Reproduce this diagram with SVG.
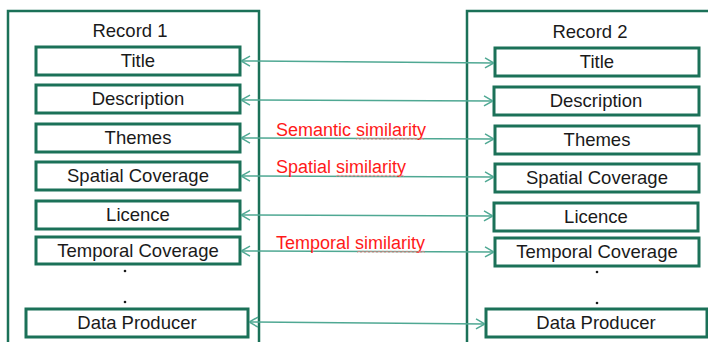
<svg xmlns="http://www.w3.org/2000/svg" width="708" height="342" viewBox="0 0 708 342">
<defs>
<style>
.container{fill:none;stroke:#1b7158;stroke-width:2.5}
.box{fill:#ffffff;stroke:#1b7158;stroke-width:3}
.t{font-family:"Liberation Sans",Arial,sans-serif;font-size:18.5px;fill:#1a1a1a;text-anchor:middle}
.lbl{font-family:"Liberation Sans",Arial,sans-serif;font-size:18px;fill:#ff1a1a}
.conn{stroke:#4fa893;stroke-width:1.5;fill:none;marker-start:url(#ah);marker-end:url(#ah)}
.sq{stroke:#f08080;stroke-width:1;fill:none;opacity:0.8}
.dot{fill:#1a1a1a}
</style>
<marker id="ah" viewBox="0 0 10 12" refX="10" refY="6" markerWidth="10" markerHeight="12" markerUnits="userSpaceOnUse" orient="auto-start-reverse">
<path d="M1,1 L10,6 L1,11" fill="none" stroke="#4fa893" stroke-width="1.5"/>
</marker>
</defs>
<rect width="708" height="342" fill="#ffffff"/>
<g id="record1">
<rect class="container" x="8" y="11" width="251" height="340"/>
<text class="t" x="130" y="37">Record 1</text>
</g>
<g id="record2">
<rect class="container" x="467" y="11" width="260" height="340"/>
<text class="t" x="590" y="38">Record 2</text>
</g>
<g id="l-title"><rect class="box" x="36" y="47" width="204" height="28"/><text class="t" x="138" y="67">Title</text></g>
<g id="l-description"><rect class="box" x="36" y="85" width="204" height="28"/><text class="t" x="138" y="105">Description</text></g>
<g id="l-themes"><rect class="box" x="36" y="124" width="204" height="28"/><text class="t" x="138" y="144">Themes</text></g>
<g id="l-spatial"><rect class="box" x="36" y="162" width="204" height="28"/><text class="t" x="138" y="182">Spatial Coverage</text></g>
<g id="l-licence"><rect class="box" x="36" y="201" width="204" height="28"/><text class="t" x="138" y="221">Licence</text></g>
<g id="l-temporal"><rect class="box" x="36" y="237" width="204" height="27"/><text class="t" x="138" y="257">Temporal Coverage</text></g>
<g id="l-dots"><circle class="dot" cx="125" cy="271" r="1.3"/><circle class="dot" cx="125" cy="302" r="1.3"/></g>
<g id="l-producer"><rect class="box" x="26" y="309" width="222" height="28"/><text class="t" x="137" y="329">Data Producer</text></g>
<g id="r-title"><rect class="box" x="495" y="48" width="204" height="28"/><text class="t" x="597" y="68">Title</text></g>
<g id="r-description"><rect class="box" x="494" y="87" width="205" height="28"/><text class="t" x="596" y="107">Description</text></g>
<g id="r-themes"><rect class="box" x="495" y="126" width="204" height="28"/><text class="t" x="597" y="146">Themes</text></g>
<g id="r-spatial"><rect class="box" x="495" y="164" width="204" height="28"/><text class="t" x="597" y="184">Spatial Coverage</text></g>
<g id="r-licence"><rect class="box" x="494" y="203" width="204" height="28"/><text class="t" x="596" y="223">Licence</text></g>
<g id="r-temporal"><rect class="box" x="495" y="238" width="204" height="28"/><text class="t" x="597" y="258">Temporal Coverage</text></g>
<g id="r-dots"><circle class="dot" cx="597" cy="272" r="1.3"/><circle class="dot" cx="597" cy="303" r="1.3"/></g>
<g id="r-producer"><rect class="box" x="486" y="309" width="221" height="28"/><text class="t" x="596" y="329">Data Producer</text></g>
<g id="connectors">
<line class="conn" x1="241" y1="61" x2="494" y2="63"/>
<line class="conn" x1="241" y1="100" x2="493" y2="101"/>
<line class="conn" x1="241" y1="138" x2="494" y2="139"/>
<line class="conn" x1="241" y1="176" x2="494" y2="177"/>
<line class="conn" x1="241" y1="215" x2="493" y2="216"/>
<line class="conn" x1="241" y1="251" x2="494" y2="252"/>
<line class="conn" x1="249" y1="322" x2="485" y2="324"/>
</g>
<g id="labels">
<text class="lbl" x="276" y="136">Semantic similarity</text>
<path class="sq" d="M356,139.5 l2,-1.5 l2,1.5 l2,-1.5 l2,1.5 l2,-1.5 l2,1.5 l2,-1.5 l2,1.5 l2,-1.5 l2,1.5 l2,-1.5 l2,1.5 l2,-1.5 l2,1.5 l2,-1.5 l2,1.5 l2,-1.5 l2,1.5 l2,-1.5 l2,1.5 l2,-1.5 l2,1.5 l2,-1.5 l2,1.5 l2,-1.5 l2,1.5 l2,-1.5 l2,1.5 l2,-1.5 l2,1.5 l2,-1.5 l2,1.5 l2,-1.5 l2,1.5"/>
<text class="lbl" x="276" y="173">Spatial similarity</text>
<path class="sq" d="M336,176.5 l2,-1.5 l2,1.5 l2,-1.5 l2,1.5 l2,-1.5 l2,1.5 l2,-1.5 l2,1.5 l2,-1.5 l2,1.5 l2,-1.5 l2,1.5 l2,-1.5 l2,1.5 l2,-1.5 l2,1.5 l2,-1.5 l2,1.5 l2,-1.5 l2,1.5 l2,-1.5 l2,1.5 l2,-1.5 l2,1.5 l2,-1.5 l2,1.5 l2,-1.5 l2,1.5 l2,-1.5 l2,1.5 l2,-1.5 l2,1.5 l2,-1.5 l2,1.5"/>
<text class="lbl" x="276" y="249">Temporal similarity</text>
<path class="sq" d="M357,252.5 l2,-1.5 l2,1.5 l2,-1.5 l2,1.5 l2,-1.5 l2,1.5 l2,-1.5 l2,1.5 l2,-1.5 l2,1.5 l2,-1.5 l2,1.5 l2,-1.5 l2,1.5 l2,-1.5 l2,1.5 l2,-1.5 l2,1.5 l2,-1.5 l2,1.5 l2,-1.5 l2,1.5 l2,-1.5 l2,1.5 l2,-1.5 l2,1.5 l2,-1.5 l2,1.5 l2,-1.5 l2,1.5 l2,-1.5 l2,1.5 l2,-1.5 l2,1.5"/>
</g>
</svg>
